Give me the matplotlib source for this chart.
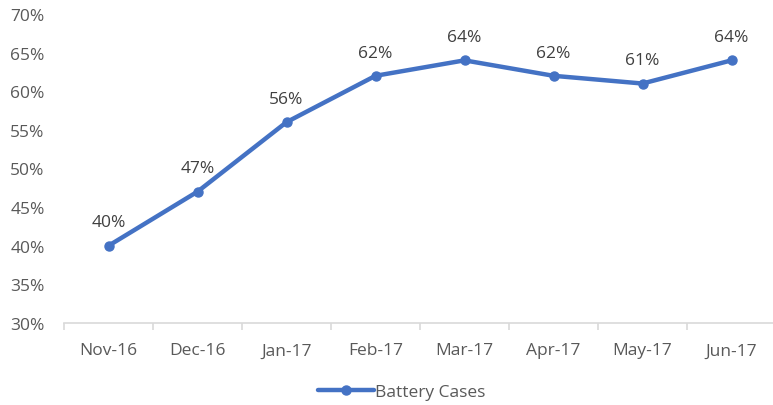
import matplotlib
matplotlib.use("Agg")
import matplotlib.pyplot as plt
from matplotlib.ticker import FuncFormatter

plt.rcParams['font.family'] = ['Open Sans', 'DejaVu Sans']

months = ["Nov-16", "Dec-16", "Jan-17", "Feb-17", "Mar-17", "Apr-17", "May-17", "Jun-17"]
battery_cases = [0.40, 0.47, 0.56, 0.62, 0.64, 0.62, 0.61, 0.64]
y_ticks = [0.30, 0.35, 0.40, 0.45, 0.50, 0.55, 0.60, 0.65, 0.70]

W, H = 773, 406
fig = plt.figure(figsize=(W / 100, H / 100), dpi=100)
left, right, bottom, top = 64, 776, 324, 15
ax = fig.add_axes([left / W, 1 - bottom / H, (right - left) / W, (bottom - top) / H])

color = "#4472C4"
text_color = "#595959"
fs = 12.5
x = list(range(len(months)))
line, = ax.plot(x, battery_cases, color=color, lw=3.2, marker="o", ms=6.5,
                label="Battery Cases", solid_capstyle="round", clip_on=False, zorder=3)

for xi, v in zip(x, battery_cases):
    ax.annotate(f"{v*100:.0f}%", (xi, v), xytext=(0, 11), textcoords="offset points",
                ha="center", va="bottom", fontsize=fs, color="#404040")

ax.set_xlim(-0.5, len(months) - 0.5)
ax.set_ylim(0.30, 0.70)
ax.set_yticks(y_ticks)
ax.yaxis.set_major_formatter(FuncFormatter(lambda v, p: f"{v*100:.0f}%"))
ax.set_xticks(x)
ax.set_xticklabels(months)
ax.set_xticks([i - 0.5 for i in range(len(months) + 1)], minor=True)

for s in ["top", "right", "left"]:
    ax.spines[s].set_visible(False)
ax.spines["bottom"].set_color("#D9D9D9")
ax.spines["bottom"].set_linewidth(1.2)

ax.tick_params(axis="y", length=0, labelsize=fs, labelcolor=text_color, pad=14)
ax.tick_params(axis="x", which="major", length=0, labelsize=fs, labelcolor=text_color, pad=14)
ax.tick_params(axis="x", which="minor", length=5, color="#D9D9D9", width=1.2)

leg = fig.legend(handles=[line], loc="center", bbox_to_anchor=(0.52, 1 - 393 / H),
                 frameon=False, fontsize=fs, handlelength=3.2, handletextpad=0.1)
for t in leg.get_texts():
    t.set_color(text_color)

fig.savefig("out.png", dpi=100)
